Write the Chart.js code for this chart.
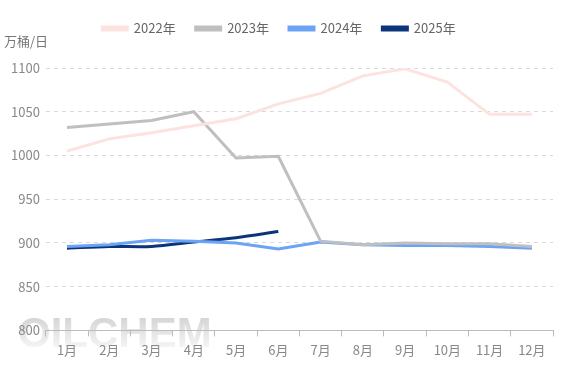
<!DOCTYPE html>
<html><head><meta charset="utf-8">
<script src="https://cdn.jsdelivr.net/npm/chart.js@4/dist/chart.umd.min.js"></script>
<style>html,body{margin:0;padding:0;background:#fff}#wrap{width:567px;height:378px}</style>
</head><body><div id="wrap"><canvas id="c" width="567" height="378"></canvas></div>
<script>
const months = ['1月','2月','3月','4月','5月','6月','7月','8月','9月','10月','11月','12月'];
const yTicks = [800, 850, 900, 950, 1000, 1050, 1100];
const yUnit = '万桶/日';
const s2022 = [1005, 1019, 1026, 1034, 1042, 1059, 1071, 1091, 1099, 1084, 1047, 1047];
const s2023 = [1032, 1036, 1040, 1050, 997, 999, 902, 898, 900, 899, 899, 896];
const s2024 = [896, 898, 903, 902, 900, 893, 901, 898, 897, 897, 896, 894];
const s2025 = [894, 896, 896, 901, 906, 913];

const FONT = '"Noto Sans CJK SC","Noto Sans",sans-serif';

const deco = {
  id: 'deco',
  beforeDraw(chart) {
    const ctx = chart.ctx;
    ctx.save();
    const g = ctx.createLinearGradient(0, 312, 0, 350);
    g.addColorStop(0, '#cfcfcf');
    g.addColorStop(1, '#f7f7f7');
    ctx.fillStyle = g;
    ctx.font = 'bold 42px "Liberation Sans", Arial, sans-serif';
    ctx.textBaseline = 'alphabetic';
    ctx.fillText('OILCHEM', 18, 347);
    ctx.restore();
  },
  afterDraw(chart) {
    const ctx = chart.ctx;
    ctx.save();
    ctx.fillStyle = '#777';
    ctx.font = '13px ' + FONT;
    ctx.textBaseline = 'middle';
    ctx.fillText(yUnit, 4, 41);
    ctx.restore();
  }
};

const legendSpace = {
  id: 'legendSpace',
  beforeInit(chart) {
    const orig = chart.legend.fit;
    chart.legend.fit = function () { orig.bind(chart.legend)(); this.height += 23; };
  }
};

new Chart(document.getElementById('c'), {
  type: 'line',
  data: {
    labels: months,
    datasets: [
      {label: '2022年', data: s2022, borderColor: '#fce3df', backgroundColor: '#fce3df', borderWidth: 3, pointRadius: 0, tension: 0},
      {label: '2023年', data: s2023, borderColor: '#bfbfbf', backgroundColor: '#bfbfbf', borderWidth: 3, pointRadius: 0, tension: 0},
      {label: '2024年', data: s2024, borderColor: '#6ca3f5', backgroundColor: '#6ca3f5', borderWidth: 3, pointRadius: 0, tension: 0},
      {label: '2025年', data: s2025, borderColor: '#0b347a', backgroundColor: '#0b347a', borderWidth: 3, pointRadius: 0, tension: 0.3}
    ]
  },
  options: {
    responsive: false,
    animation: false,
    layout: {padding: {left: 5, right: 14, top: 2, bottom: 14}},
    plugins: {
      tooltip: {enabled: false},
      legend: {
        position: 'top',
        labels: {boxWidth: 25, boxHeight: 3, padding: 20, color: '#666', font: {size: 13, family: FONT}}
      }
    },
    scales: {
      x: {
        offset: true,
        grid: {display: true, drawOnChartArea: false, drawTicks: true, tickLength: 6, offset: true, color: '#bbb'},
        border: {display: true, color: '#bbb'},
        ticks: {color: '#888', font: {size: 13, family: FONT}, padding: 6}
      },
      y: {
        min: 800, max: 1100,
        afterBuildTicks(axis) { axis.ticks = yTicks.map(v => ({value: v})); },
        grid: {color: '#d9d9d9', drawTicks: false},
        border: {display: false, dash: [4, 4]},
        ticks: {color: '#888', font: {size: 13, family: FONT}, padding: 6, callback: v => String(v)}
      }
    }
  },
  plugins: [deco, legendSpace]
});
</script></body></html>
